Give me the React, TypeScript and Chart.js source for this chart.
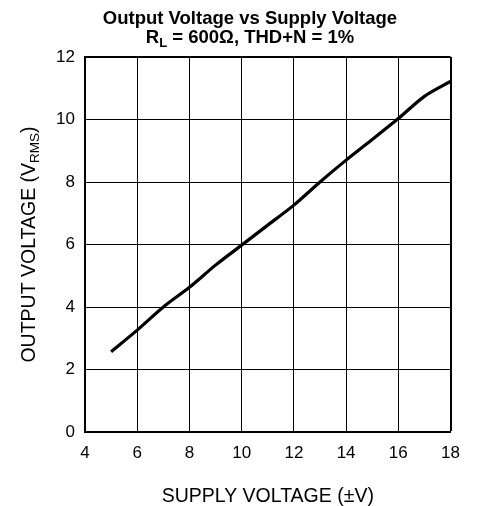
import React, { useEffect, useRef } from "react";
import { Chart, registerables } from "chart.js";

Chart.register(...registerables);

// ---- Data ----
const supplyVoltage = [5, 6, 7, 8, 9, 10, 11, 12, 13, 14, 15, 16, 17, 18];
const outputVoltage = [2.57, 3.26, 4.0, 4.63, 5.34, 5.98, 6.62, 7.26, 8.0, 8.7, 9.36, 10.03, 10.74, 11.22];

const xMin = 4;
const xMax = 18;
const xStep = 2;
const yMin = 0;
const yMax = 12;
const yStep = 2;

// ---- Text ----
const titleLine1 = "Output Voltage vs Supply Voltage";
const titleLine2Main = "R";
const titleLine2Sub = "L";
const titleLine2Rest = " = 600Ω, THD+N = 1%";
const xAxisTitle = "SUPPLY VOLTAGE (±V)";
const yAxisTitleMain = "OUTPUT VOLTAGE (V";
const yAxisTitleSub = "RMS";
const yAxisTitleEnd = ")";

const FONT = "'Liberation Sans', Arial, Helvetica, sans-serif";

type Run = { text: string; font: string; dy: number };

function drawRuns(ctx: CanvasRenderingContext2D, runs: Run[], cx: number, y: number) {
  let total = 0;
  const widths: number[] = [];
  for (const r of runs) {
    ctx.font = r.font;
    const w = ctx.measureText(r.text).width;
    widths.push(w);
    total += w;
  }
  let x = cx - total / 2;
  runs.forEach((r, i) => {
    ctx.font = r.font;
    ctx.fillText(r.text, x, y + r.dy);
    x += widths[i];
  });
}

const textPlugin = {
  id: "customTexts",
  afterDraw(chart: any) {
    const ctx: CanvasRenderingContext2D = chart.ctx;
    const area = chart.chartArea;
    ctx.save();
    ctx.fillStyle = "#000";
    ctx.textAlign = "left";
    ctx.textBaseline = "alphabetic";

    const titleCx = chart.width / 2 + 10.5;
    drawRuns(ctx, [{ text: titleLine1, font: `bold 18.5px ${FONT}`, dy: 0 }], titleCx, 16);
    drawRuns(
      ctx,
      [
        { text: titleLine2Main, font: `bold 18.5px ${FONT}`, dy: 0 },
        { text: titleLine2Sub, font: `bold 13px ${FONT}`, dy: 4 },
        { text: titleLine2Rest, font: `bold 18.5px ${FONT}`, dy: 0 },
      ],
      titleCx,
      35
    );

    // x axis title
    drawRuns(ctx, [{ text: xAxisTitle, font: `19.5px ${FONT}`, dy: 0 }], (area.left + area.right) / 2, 494);

    // y axis title
    ctx.save();
    ctx.translate(27, (area.top + area.bottom) / 2);
    ctx.rotate(-Math.PI / 2);
    drawRuns(
      ctx,
      [
        { text: yAxisTitleMain, font: `19.5px ${FONT}`, dy: 0 },
        { text: yAxisTitleSub, font: `13.5px ${FONT}`, dy: 4 },
        { text: yAxisTitleEnd, font: `19.5px ${FONT}`, dy: 0 },
      ],
      0,
      0
    );
    ctx.restore();
    ctx.restore();
  },
};

export default function App() {
  const canvasRef = useRef<HTMLCanvasElement | null>(null);

  useEffect(() => {
    document.documentElement.style.overflow = "hidden";
    if (!canvasRef.current) return;
    const chart = new Chart(canvasRef.current, {
      type: "line",
      data: {
        datasets: [
          {
            data: supplyVoltage.map((x, i) => ({ x, y: outputVoltage[i] })),
            borderColor: "#000",
            borderWidth: 3.2,
            pointRadius: 0,
            tension: 0.3,
            fill: false,
          },
        ],
      },
      plugins: [textPlugin],
      options: {
        animation: false,
        responsive: true,
        maintainAspectRatio: false,
        layout: { padding: { top: 49, right: 12, left: 0, bottom: 0 } },
        plugins: {
          legend: { display: false },
          title: { display: false },
          tooltip: { enabled: false },
        },
        scales: {
          x: {
            type: "linear",
            min: xMin,
            max: xMax,
            afterFit: (s: any) => {
              s.height = 74;
            },
            ticks: {
              stepSize: xStep,
              color: "#000",
              padding: 11,
              font: { family: FONT, size: 17 },
            },
            grid: {
              color: "#000",
              lineWidth: (c: any) => (c.tick && c.tick.value === xMax ? 2 : 1),
              drawTicks: false,
            },
            border: { color: "#000", width: 2 },
          },
          y: {
            min: yMin,
            max: yMax,
            afterFit: (s: any) => {
              s.width = 77;
            },
            ticks: {
              stepSize: yStep,
              color: "#000",
              padding: 10,
              font: { family: FONT, size: 17 },
            },
            grid: {
              color: "#000",
              lineWidth: (c: any) => (c.tick && c.tick.value === yMax ? 2 : 1),
              drawTicks: false,
            },
            border: { color: "#000", width: 2 },
          },
        },
      },
    });
    return () => chart.destroy();
  }, []);

  return (
    <div style={{ position: "relative", width: 463, height: 498 }}>
      <canvas ref={canvasRef} />
    </div>
  );
}
